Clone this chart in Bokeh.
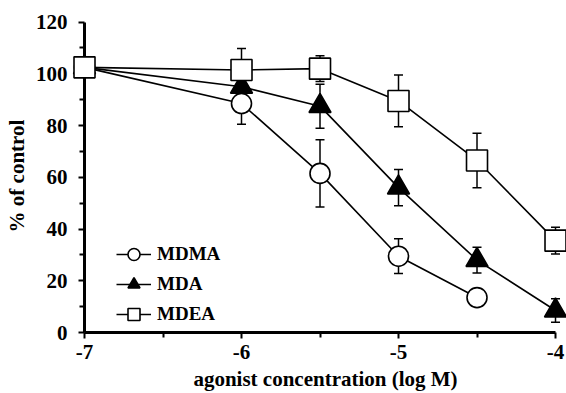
from bokeh.plotting import figure
from bokeh.models import (ColumnDataSource, Whisker, TeeHead, Legend, LegendItem,
                          FixedTicker, Range1d)
from bokeh.embed import file_html
from bokeh.resources import INLINE

# ---- data ----
log_conc = [-7, -6, -5.5, -5, -4.5, -4]
mdma_x = [-7, -6, -5.5, -5, -4.5]
mdma = [102.5, 88.5, 61.5, 29.5, 13.5]
mdma_err = [0, 8, 13, 6.7, 0]
mda = [102.5, 95, 87.5, 56, 28, 8.5]
mda_err = [0, 2, 8.5, 7, 5, 4.5]
mdea = [102.5, 101.5, 102, 89.5, 66.5, 35.5]
mdea_err = [0, 8.3, 5, 10, 10.5, 5.2]
x_ticks = [-7, -6, -5, -4]
x_minor = [-6.5, -5.5, -4.5]
y_ticks = [0, 20, 40, 60, 80, 100, 120]
y_minor = [10, 30, 50, 70, 90, 110]

FONT = "Liberation Serif"

p = figure(width=566, height=393, output_backend="svg", toolbar_location=None,
           x_range=Range1d(-7, -3.93), y_range=Range1d(0, 121),
           min_border_left=84, min_border_right=0, min_border_top=19,
           min_border_bottom=10)
p.grid.visible = False
p.outline_line_color = None
p.background_fill_color = "white"
p.border_fill_color = "white"


def err_source(xs, ys, es):
    xx = [x for x, e in zip(xs, es) if e > 0]
    up = [y + e for y, e in zip(ys, es) if e > 0]
    lo = [y - e for y, e in zip(ys, es) if e > 0]
    return ColumnDataSource(dict(base=xx, upper=up, lower=lo))


series = [
    ("MDMA", mdma_x, mdma, mdma_err, "circle", "white", 20),
    ("MDA", log_conc, mda, mda_err, "triangle", "black", 22),
    ("MDEA", log_conc, mdea, mdea_err, "square", "white", 21),
]

items = []
for name, xs, ys, es, marker, fill, size in series:
    w = Whisker(source=err_source(xs, ys, es), base="base", upper="upper", lower="lower",
                line_color="black", line_width=1.5,
                upper_head=TeeHead(size=9, line_width=1.5, line_color="black"),
                lower_head=TeeHead(size=9, line_width=1.5, line_color="black"))
    p.add_layout(w)

for name, xs, ys, es, marker, fill, size in series:
    lr = p.line(xs, ys, line_color="black", line_width=1.6, level="overlay")
    sr = p.scatter(xs, ys, marker=marker, size=size, fill_color=fill,
                   line_color="black", line_width=1.6, level="overlay")
    items.append(LegendItem(label=name, renderers=[lr, sr]))

legend = Legend(items=items, location=(32, 3), glyph_width=35, glyph_height=30,
                spacing=0, padding=0, margin=0, label_standoff=6,
                label_text_font=FONT, label_text_font_style="bold",
                label_text_font_size="19px", label_text_color="black",
                border_line_alpha=0, background_fill_alpha=0)
p.add_layout(legend)

for ax in (p.xaxis[0], p.yaxis[0]):
    ax.axis_line_width = 3
    ax.axis_line_color = "black"
    ax.major_tick_line_width = 2
    ax.minor_tick_line_width = 2
    ax.major_tick_line_color = "black"
    ax.minor_tick_line_color = "black"
    ax.major_tick_out = 6
    ax.major_tick_in = 0
    ax.minor_tick_out = 5
    ax.minor_tick_in = 0
    ax.major_label_text_font = FONT
    ax.major_label_text_font_style = "bold"
    ax.major_label_text_font_size = "21px"
    ax.major_label_text_color = "black"
    ax.axis_label_text_font = FONT
    ax.axis_label_text_font_style = "bold"
    ax.axis_label_text_font_size = "21px"
    ax.axis_label_text_color = "black"

p.xaxis.ticker = FixedTicker(ticks=x_ticks, minor_ticks=x_minor)
p.yaxis.ticker = FixedTicker(ticks=y_ticks, minor_ticks=y_minor)
p.xaxis.bounds = (-7, -4)
p.yaxis.bounds = (0, 120)
p.xaxis.major_label_overrides = {t: str(t) for t in x_ticks}
p.xaxis.axis_label = "agonist concentration (log M)"
p.yaxis.axis_label = "% of control"
p.xaxis.major_label_standoff = 6
p.xaxis.axis_label_standoff = 5
p.yaxis.major_label_standoff = 11
p.yaxis.axis_label_standoff = 4

open("out.html", "w").write(file_html(p, INLINE))
